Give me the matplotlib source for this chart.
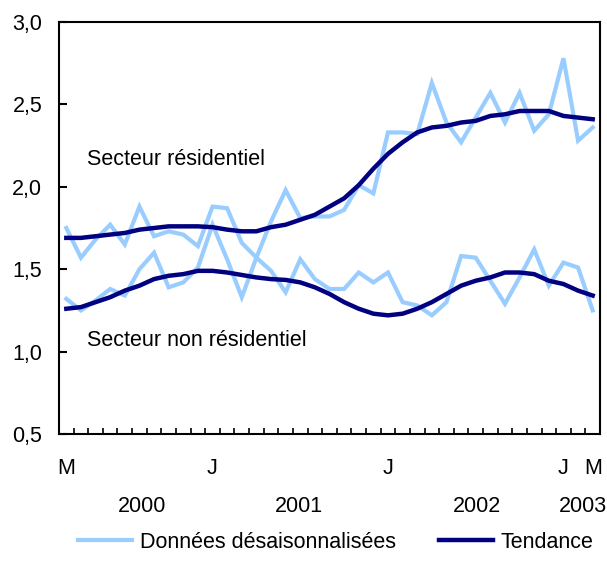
import matplotlib
matplotlib.use('Agg')
import matplotlib.pyplot as plt
import matplotlib.transforms as mtransforms
from matplotlib.lines import Line2D
import numpy as np

plt.rcParams['font.family'] = ['Liberation Sans', 'DejaVu Sans']

# Monthly data, March 2000 .. March 2003 (37 months)
res_sa = [1.75, 1.57, 1.68, 1.77, 1.65, 1.88, 1.70, 1.73, 1.71, 1.64,
          1.88, 1.87, 1.66, 1.57, 1.79, 1.98, 1.81, 1.82, 1.82, 1.86,
          2.01, 1.96, 2.33, 2.33, 2.32, 2.63, 2.39, 2.27, 2.42, 2.57,
          2.39, 2.57, 2.34, 2.44, 2.78, 2.28, 2.36]
res_trend = [1.69, 1.69, 1.70, 1.71, 1.72, 1.74, 1.75, 1.76, 1.76, 1.76,
             1.755, 1.74, 1.73, 1.73, 1.755, 1.77, 1.80, 1.83, 1.88, 1.93,
             2.01, 2.11, 2.20, 2.27, 2.33, 2.36, 2.37, 2.39, 2.40, 2.43,
             2.44, 2.46, 2.46, 2.46, 2.43, 2.42, 2.41]
nonres_sa = [1.32, 1.25, 1.31, 1.38, 1.34, 1.50, 1.60, 1.39, 1.42, 1.51,
             1.77, 1.56, 1.33, 1.57, 1.49, 1.36, 1.56, 1.44, 1.38, 1.38,
             1.48, 1.42, 1.48, 1.30, 1.28, 1.22, 1.30, 1.58, 1.57, 1.43,
             1.29, 1.45, 1.62, 1.40, 1.54, 1.51, 1.25]
nonres_trend = [1.26, 1.27, 1.30, 1.33, 1.37, 1.40, 1.44, 1.46, 1.47, 1.49,
                1.49, 1.48, 1.465, 1.45, 1.44, 1.435, 1.42, 1.39, 1.35, 1.30,
                1.26, 1.23, 1.22, 1.23, 1.26, 1.30, 1.35, 1.40, 1.43, 1.45,
                1.48, 1.48, 1.47, 1.43, 1.41, 1.37, 1.34]

month_tick_pos = [0, 10, 22, 34, 36]
month_tick_labels = ['M', 'J', 'J', 'J', 'M']
year_labels = ['2000', '2001', '2002', '2003']
year_pos = [5.2, 15.9, 28.1, 35.3]
y_ticks = [0.5, 1.0, 1.5, 2.0, 2.5, 3.0]
legend_labels = ['Données désaisonnalisées', 'Tendance']
series_labels = ['Secteur résidentiel', 'Secteur non résidentiel']

light = '#99CCFF'
dark = '#000080'
fs = 15.5

fig = plt.figure(figsize=(6.07, 5.64), dpi=100)
ax = fig.add_axes([59/607, 130/564, 541/607, 412/564])

x = np.arange(len(res_sa))
ax.plot(x, res_sa, color=light, lw=3.0, solid_joinstyle='miter', zorder=2)
ax.plot(x, nonres_sa, color=light, lw=3.0, solid_joinstyle='miter', zorder=2)
ax.plot(x, res_trend, color=dark, lw=3.2, zorder=3)
ax.plot(x, nonres_trend, color=dark, lw=3.2, zorder=3)

ax.set_xlim(-0.5, len(res_sa) - 0.5)
ax.set_ylim(0.5, 3.0)

ax.set_yticks(y_ticks)
ax.set_yticklabels([f'{v:.1f}'.replace('.', ',') for v in y_ticks], fontsize=fs)
ax.tick_params(axis='y', direction='in', length=6, width=1.5, pad=12)

ax.set_xticks(month_tick_pos)
ax.set_xticklabels(month_tick_labels, fontsize=fs)
ax.set_xticks(np.arange(-0.5, len(res_sa) + 0.5, 1), minor=True)
ax.tick_params(axis='x', which='major', length=0, pad=17.5)
ax.tick_params(axis='x', which='minor', direction='in', length=4, width=1.2)

for s in ax.spines.values():
    s.set_linewidth(1.5)

trans = mtransforms.blended_transform_factory(ax.transData, ax.transAxes)
for lab, p in zip(year_labels, year_pos):
    ax.text(p, -0.175, lab, transform=trans, ha='center', va='center', fontsize=fs)

ax.text(1.4, 2.165, series_labels[0], fontsize=fs, va='center', ha='left')
ax.text(1.4, 1.065, series_labels[1], fontsize=fs, va='center', ha='left')

handles = [Line2D([], [], color=light, lw=3.0), Line2D([], [], color=dark, lw=3.2)]
fig.legend(handles, legend_labels, loc='center', bbox_to_anchor=(0.553, 0.039),
           ncol=2, frameon=False, fontsize=fs, handlelength=2.5,
           handletextpad=0.35, columnspacing=2.0, borderaxespad=0)

fig.savefig('out.png', dpi=100)
